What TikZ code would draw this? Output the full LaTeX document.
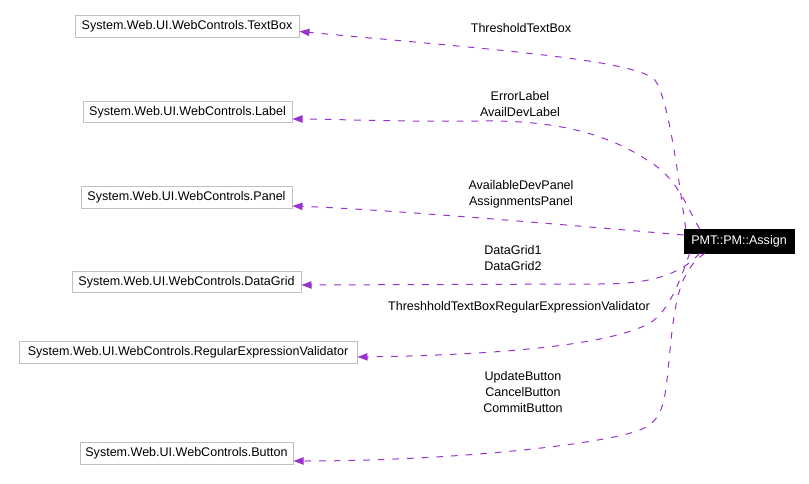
\documentclass[tikz,border=0pt]{standalone}
\usepackage{fontspec}
\setmainfont{Liberation Sans}
\usetikzlibrary{arrows.meta,calc}
\definecolor{edgecol}{HTML}{9A32CD}
\definecolor{boxgray}{HTML}{BFBFBF}
\tikzset{
  cls/.style={draw=boxgray, line width=0.75pt, fill=white, minimum height=16pt, inner sep=0pt, font=\fontsize{9.4}{12}\selectfont},
  mainnode/.style={draw=black, fill=black, text=white, minimum width=82.5pt, minimum height=18pt, inner sep=0pt, font=\fontsize{9.4}{12}\selectfont},
  elabel/.style={align=center, inner sep=0pt, font=\fontsize{9.4}{12}\selectfont},
  edge/.style={draw=edgecol, line width=0.75pt, dash pattern=on 5pt off 6pt, -{Triangle[length=7.5pt,width=5.5pt]}}
}
\begin{document}
\begin{tikzpicture}[x=0.75pt,y=-0.75pt]
\useasboundingbox (0,0) rectangle (809,484);
\node[cls, minimum width=168pt] (textbox) at (187,26.5) {System.Web.UI.WebControls.TextBox};
\node[cls, minimum width=156.75pt] (label) at (187.5,112) {System.Web.UI.WebControls.Label};
\node[cls, minimum width=158.25pt] (panel) at (186.5,197.5) {System.Web.UI.WebControls.Panel};
\node[cls, minimum width=171.75pt] (datagrid) at (186.5,282) {System.Web.UI.WebControls.DataGrid};
\node[cls, minimum width=253.5pt] (regex) at (188,352.5) {System.Web.UI.WebControls.RegularExpressionValidator};
\node[cls, minimum width=159.75pt] (button) at (186.5,453.5) {System.Web.UI.WebControls.Button};
\node[mainnode] (assign) at (739,241) {PMT::PM::Assign};

\node[elabel] (l1) at (521,28) {ThresholdTextBox};
\node[elabel] (l2) at (520,104.5) {ErrorLabel\\AvailDevLabel};
\node[elabel] (l3) at (521,194.5) {AvailableDevPanel\\AssignmentsPanel};
\node[elabel] (l4) at (513,258) {DataGrid1\\DataGrid2};
\node[elabel] (l5) at (519,307) {ThreshholdTextBoxRegularExpressionValidator};
\node[elabel] (l6) at (523,392) {UpdateButton\\CancelButton\\CommitButton};

\draw[edge] ($(assign.north west)+(2,0)$) .. controls (676,160) and (668,100) .. (655,80)
  .. controls (635,60) and (500,50) .. ($(textbox.east)+(0,5)$);
\draw[edge] ($(assign.north west)+(16,0)$) .. controls (690,215) and (680,180) .. (650,162)
  .. controls (610,135) and (560,120) .. (480,121) .. controls (400,122) and (330,119) .. ($(label.east)+(0,7)$);
\draw[edge] ($(assign.west)+(0,-6)$) .. controls (600,228) and (400,210) .. ($(panel.east)+(0,8.5)$);
\draw[edge] ($(assign.south west)+(16,0)$) .. controls (680,275) and (650,284) .. (600,284)
  -- ($(datagrid.east)+(0,3)$);
\draw[edge] ($(assign.south west)+(6,0)$) .. controls (680,280) and (670,310) .. (650,323)
  .. controls (610,345) and (500,355) .. ($(regex.east)+(0,4.5)$);
\draw[edge] ($(assign.south west)+(21,0)$) .. controls (680,270) and (675,300) .. (670,350)
  .. controls (665,400) and (665,420) .. (640,430) .. controls (600,445) and (450,461) .. ($(button.east)+(0,7.5)$);
\end{tikzpicture}
\end{document}
